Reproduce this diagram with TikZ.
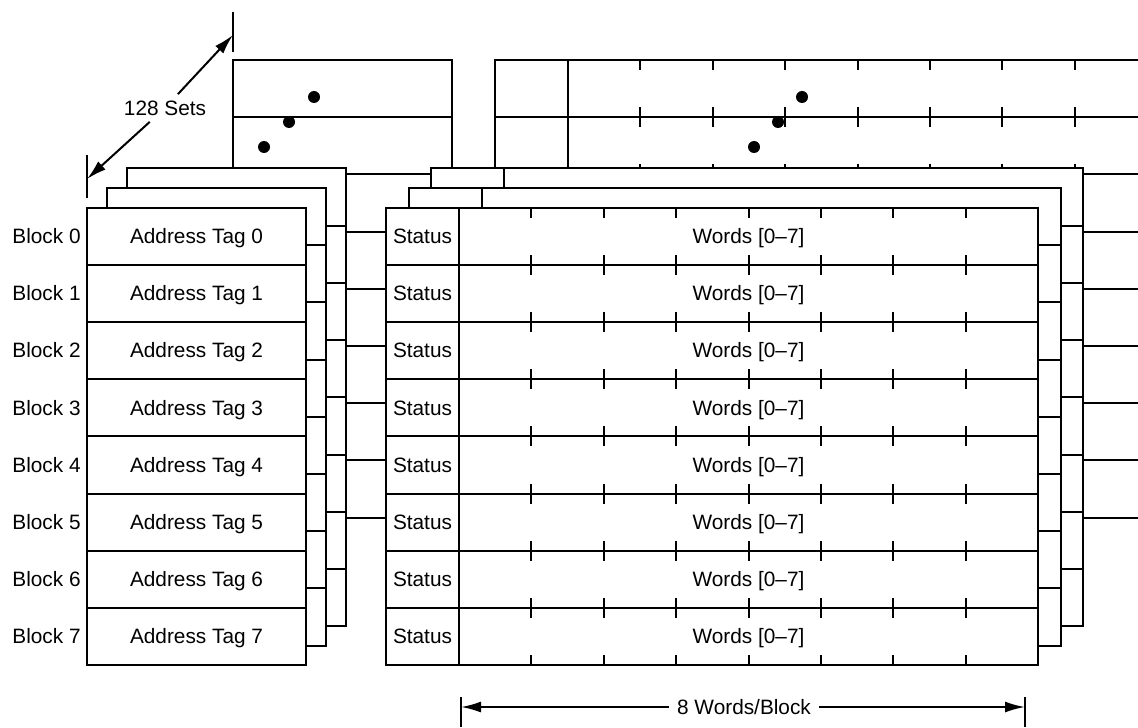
\documentclass[tikz,border=0pt]{standalone}
\usepackage{fontspec}
\setmainfont{Liberation Sans}
\usepackage{tikz}
\usetikzlibrary{positioning,arrows.meta}

\tikzset{
  thickline/.style={line width=1pt},
  sheet/.style={thickline, draw, fill=white},
  capline/.style={text height=7.45pt, text depth=0pt},
  slot/.style={sheet, capline, minimum height=28.6pt, inner sep=0pt, outer sep=0pt},
  tagcell/.style={slot, minimum width=109.5pt},
  statcell/.style={slot, minimum width=36.5pt},
  wordcell/.style={slot, minimum width=289.5pt},
  dimline/.style={line width=1pt, -{Latex[length=10pt,width=5.5pt]}},
  lbl/.style={capline, inner sep=0pt},
}

\begin{document}
\begin{tikzpicture}[x=0.5pt, y=-0.5pt, font=\fontsize{10.4}{12}\selectfont]
  \useasboundingbox (0,0) rectangle (1138,727);
  \clip (0,0) rectangle (1138,727);

  % set 127 (back)
  \draw[sheet] (233,60) rectangle ++(219,457.6);                      % tags
  \draw[sheet] (495,60) rectangle ++(652,457.6);                      % status + words
  \draw[thickline] (568,60) -- ++(0,457.6);                           % status divider
  \foreach \r in {1,...,7}
    \draw[thickline] (233,60+57.2*\r) -- ++(219,0) (495,60+57.2*\r) -- ++(652,0);
  \foreach \r in {0,...,7}
    \foreach \k in {1,...,7}
      \draw[thickline] (568+72.4*\k,60+57.2*\r) -- ++(0,10)
                       (568+72.4*\k,117.2+57.2*\r) -- ++(0,-10);
  \foreach \cx/\cy in {264/147, 289/122, 314/97, 754/147, 778/122, 802/97}
    \fill (\cx,\cy) circle (3pt);                                     % more sets

  % sets 2 and 1
  \foreach \ax/\sx/\ty in {127/431/168.5, 107/409/188} {
    \draw[sheet] (\ax,\ty) rectangle ++(219,457.6);                   % tags
    \draw[sheet] (\sx,\ty) rectangle ++(652,457.6);                   % status + words
    \draw[thickline] (\sx+73,\ty) -- ++(0,457.6);                     %
    \foreach \r in {1,...,7}
      \draw[thickline] (\ax,\ty+57.2*\r) -- ++(219,0) (\sx,\ty+57.2*\r) -- ++(652,0);
  }

  % set 0 (front)
  \node[tagcell] (tag0) at (196.5,236.1) {Address Tag 0};
  \node[statcell, right=40pt of tag0] (stat0) {Status};
  \node[wordcell, right=0pt of stat0] (word0) {Words [0--7]};
  \foreach \i [count=\j from 0] in {1,...,7} {
    \node[tagcell, below=0pt of tag\j] (tag\i) {Address Tag \i};
    \node[statcell, below=0pt of stat\j] (stat\i) {Status};
    \node[wordcell, below=0pt of word\j] (word\i) {Words [0--7]};
  }
  \foreach \i in {0,...,7} {
    \node[lbl, left=3pt of tag\i] (blk\i) {Block \i};
    \foreach \k in {1,...,7}
      \draw[thickline] ([xshift=\k*36.2pt]word\i.north west) -- ++(0,10)
                       ([xshift=\k*36.2pt]word\i.south west) -- ++(0,-10);
  }

  % 128 Sets
  \draw[thickline] (233,12) -- (233,52) (87,155) -- (87,198);
  \coordinate (setsTop) at (233,35);
  \coordinate (setsBot) at (87,179);
  \node[capline, inner sep=3pt] (sets) at (165,108) {128 Sets};
  \draw[dimline] (sets) -- (setsTop);
  \draw[dimline] (sets) -- (setsBot);

  % 8 Words/Block
  \draw[thickline] (461,697) -- (461,727) (1025,697) -- (1025,727);
  \coordinate (wpbL) at (461,707);
  \coordinate (wpbR) at (1025,707);
  \node[capline, inner xsep=3.75pt] (wpb) at (744,707) {8 Words/Block};
  \draw[dimline] (wpb) -- (wpbL);
  \draw[dimline] (wpb) -- (wpbR);
\end{tikzpicture}
\end{document}
